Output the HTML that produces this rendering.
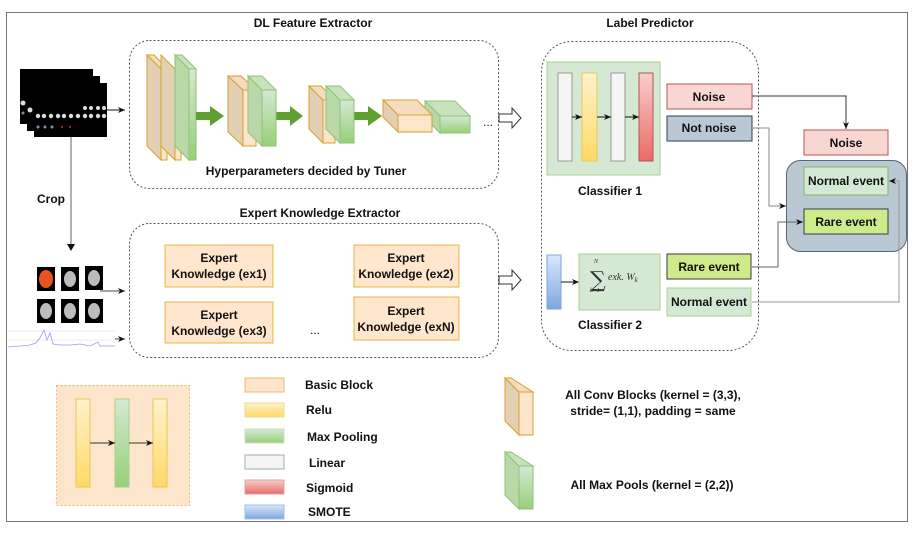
<!DOCTYPE html>
<html><head><meta charset="utf-8"><style>
html,body{margin:0;padding:0;background:#fff}
svg{display:block}
text{font-family:"Liberation Sans",Arial,sans-serif;font-weight:bold;fill:#111}
text.n{font-weight:normal}
</style></head><body>
<svg width="914" height="535" viewBox="0 0 914 535" xmlns="http://www.w3.org/2000/svg">
<defs>
<linearGradient id="gG" x1="0" y1="0" x2="0" y2="1"><stop offset="0" stop-color="#d5e8d4"/><stop offset="1" stop-color="#97d077"/></linearGradient>
<linearGradient id="gY" x1="0" y1="0" x2="0" y2="1"><stop offset="0" stop-color="#fff2cc"/><stop offset="1" stop-color="#ffd966"/></linearGradient>
<linearGradient id="gR" x1="0" y1="0" x2="0" y2="1"><stop offset="0" stop-color="#f8cecc"/><stop offset="1" stop-color="#ea6b66"/></linearGradient>
<linearGradient id="gB" x1="0" y1="0" x2="0" y2="1"><stop offset="0" stop-color="#dae8fc"/><stop offset="1" stop-color="#7ea6e0"/></linearGradient>
<marker id="ar" markerWidth="8" markerHeight="8" refX="7" refY="4" orient="auto" markerUnits="userSpaceOnUse"><path d="M0,1 L7,4 L0,7 L2,4 z" fill="#111"/></marker>
</defs>
<rect x="6.5" y="12.5" width="901" height="509" fill="#fff" stroke="#777" stroke-width="1"/>

<!-- DL Feature Extractor -->
<text x="313" y="27" font-size="12" text-anchor="middle">DL Feature Extractor</text>
<rect x="129.5" y="40.5" width="369" height="148" rx="20" fill="none" stroke="#555" stroke-dasharray="2,2"/>

<!-- image stacks -->
<rect x="20" y="69" width="73" height="55" fill="#000"/>
<rect x="27" y="76" width="73" height="55" fill="#000"/>
<rect x="34" y="83" width="73" height="54" fill="#000"/>
<g fill="#ddd">
<circle cx="23" cy="103" r="2.5"/><circle cx="30" cy="110" r="2.5"/>
<circle cx="38" cy="116" r="2.2"/><circle cx="44" cy="116" r="2.2"/><circle cx="51" cy="116" r="2.2"/><circle cx="58" cy="116" r="2.2"/><circle cx="64" cy="116" r="2.2"/><circle cx="71" cy="116" r="2.2"/><circle cx="78" cy="116" r="2.2"/><circle cx="85" cy="116" r="2.2"/><circle cx="91" cy="116" r="2.2"/><circle cx="98" cy="116" r="2.2"/><circle cx="104" cy="116" r="2.2"/>
<circle cx="85" cy="108" r="2"/><circle cx="91" cy="108" r="2"/><circle cx="98" cy="108" r="2"/><circle cx="104" cy="108" r="2"/>
</g>
<g fill="#88a"><circle cx="38" cy="127" r="1.5"/><circle cx="45" cy="127" r="1.5"/><circle cx="52" cy="127" r="1.5"/><circle cx="23" cy="113" r="1.5"/></g>
<g fill="#c33"><circle cx="62" cy="127" r="1"/><circle cx="70" cy="127" r="1"/></g>
<line x1="107" y1="110" x2="125" y2="110" stroke="#111" marker-end="url(#ar)"/>

<!-- conv blocks -->
<g stroke="#d6a22c" stroke-width="1">
<polygon points="147,55 161,69 161,160 147,146" fill="#e3cfb3"/>
<polygon points="147,55 154,55 168,69 161,69" fill="#f3dcc0"/>
<rect x="161" y="69" width="6" height="91" fill="#fde5cc"/>
<polygon points="161,55 175,69 175,160 161,146" fill="#e3cfb3"/>
<rect x="175" y="69" width="6" height="91" fill="#fde5cc"/>
</g>
<g stroke="#8fc27a">
<polygon points="175,55 189,69 189,160 175,146" fill="#b8d8a8"/>
<polygon points="175,55 182,55 196,69 189,69" fill="#c8e2bb"/>
<rect x="189" y="69" width="7" height="91" fill="url(#gG)"/>
</g>
<g fill="#60a030"><polygon points="196,112 210,112 210,106 224,116 210,126 210,120 196,120"/>
<polygon points="276,112 290,112 290,106 303,116 290,126 290,120 276,120"/>
<polygon points="354,112 368,112 368,106 382,116 368,126 368,120 354,120"/></g>

<g stroke="#d6a22c">
<polygon points="228,76 243,90 243,146 228,132" fill="#e3cfb3"/>
<polygon points="228,76 241,76 256,90 243,90" fill="#f3dcc0"/>
<rect x="243" y="90" width="13" height="56" fill="#fde5cc"/>
</g>
<g stroke="#8fc27a">
<polygon points="248,76 262,90 262,146 248,132" fill="#b8d8a8"/>
<polygon points="248,76 262,76 276,90 262,90" fill="#c8e2bb"/>
<rect x="262" y="90" width="14" height="56" fill="url(#gG)"/>
</g>
<g stroke="#d6a22c">
<polygon points="309,86 323,100 323,143 309,129" fill="#e3cfb3"/>
<polygon points="309,86 321,86 335,100 323,100" fill="#f3dcc0"/>
<rect x="323" y="100" width="12" height="43" fill="#fde5cc"/>
</g>
<g stroke="#8fc27a">
<polygon points="326,86 340,100 340,143 326,129" fill="#b8d8a8"/>
<polygon points="326,86 340,86 354,100 340,100" fill="#c8e2bb"/>
<rect x="340" y="100" width="14" height="43" fill="url(#gG)"/>
</g>
<g stroke="#8fc27a">
<polygon points="425,101 455,101 470,116 440,116" fill="#c8e2bb"/>
<polygon points="425,101 440,116 440,133 425,118" fill="#b8d8a8"/>
<rect x="440" y="116" width="30" height="17" fill="url(#gG)"/>
</g>
<g stroke="#d6a22c">
<polygon points="383,100 417,100 432,115 398,115" fill="#f3dcc0"/>
<polygon points="383,100 398,115 398,132 383,117" fill="#e3cfb3"/>
<rect x="398" y="115" width="34" height="17" fill="#fde5cc"/>
</g>
<text class="n" x="483" y="126" font-size="12">...</text>
<polygon points="499,114 512,114 512,108 521,118 512,128 512,122 499,122" fill="#fff" stroke="#333"/>
<text x="306" y="175" font-size="12" text-anchor="middle">Hyperparameters decided by Tuner</text>

<!-- crop -->
<line x1="71" y1="137" x2="71" y2="248" stroke="#999" stroke-width="1.5"/>
<path d="M67,244 L71,251 L75,244 z" fill="#111"/>
<text x="51" y="203" font-size="12" text-anchor="middle">Crop</text>

<!-- Expert Knowledge Extractor -->
<text x="320" y="217" font-size="12" text-anchor="middle">Expert Knowledge Extractor</text>
<rect x="129.5" y="223.5" width="369" height="134" rx="20" fill="none" stroke="#555" stroke-dasharray="2,2"/>
<g fill="#ffe6cc" stroke="#d79b00" stroke-opacity="0.7">
<rect x="165" y="245" width="108" height="42"/>
<rect x="354" y="245" width="105" height="42"/>
<rect x="165" y="302" width="108" height="41"/>
<rect x="354" y="297" width="105" height="43"/>
</g>
<g font-size="12" text-anchor="middle">
<text x="219" y="262">Expert</text><text x="219" y="278">Knowledge (ex1)</text>
<text x="406" y="262">Expert</text><text x="406" y="278">Knowledge (ex2)</text>
<text x="219" y="319">Expert</text><text x="219" y="335">Knowledge (ex3)</text>
<text x="406" y="315">Expert</text><text x="406" y="331">Knowledge (exN)</text>
</g>
<text class="n" x="310" y="334" font-size="12">...</text>
<polygon points="499,276 512,276 512,270 521,280 512,290 512,284 499,284" fill="#fff" stroke="#333"/>

<!-- thumbnails -->
<g fill="#000">
<rect x="37" y="267" width="18" height="24"/><rect x="61" y="267" width="18" height="24"/><rect x="85" y="266" width="18" height="24"/>
<rect x="37" y="299" width="18" height="24"/><rect x="61" y="299" width="18" height="24"/><rect x="85" y="299" width="18" height="24"/>
</g>
<ellipse cx="46" cy="279" rx="7" ry="9" fill="#e8541f"/>
<g fill="#bbb">
<ellipse cx="70" cy="279" rx="6" ry="8"/><ellipse cx="94" cy="278" rx="6" ry="8"/>
<ellipse cx="46" cy="311" rx="6" ry="8"/><ellipse cx="70" cy="311" rx="6" ry="8"/><ellipse cx="94" cy="311" rx="6" ry="8"/>
</g>
<line x1="100" y1="291" x2="125" y2="291" stroke="#444" marker-end="url(#ar)"/>
<g stroke="#ddd" stroke-width="0.6"><line x1="8" y1="331" x2="115" y2="331"/><line x1="8" y1="340" x2="115" y2="340"/></g>
<polyline points="8,347 20,346 30,345 36,343 40,338 44,330 47,340 50,333 53,344 60,345 70,345 80,344 90,346 98,342 100,346 115,346" fill="none" stroke="#99f" stroke-width="0.8"/>
<line x1="115" y1="339" x2="125" y2="339" stroke="#444" marker-end="url(#ar)"/>

<!-- Label predictor -->
<text x="650" y="27" font-size="12" text-anchor="middle">Label Predictor</text>
<rect x="541.5" y="41.5" width="217" height="309" rx="30" fill="none" stroke="#555" stroke-dasharray="2,2"/>
<rect x="547" y="62" width="113" height="113" fill="#d5e8d4" stroke="#a8d08d"/>
<rect x="558" y="73" width="14" height="88" fill="#f5f5f5" stroke="#999"/>
<rect x="582" y="73" width="15" height="88" fill="url(#gY)" stroke="#e6c85a"/>
<rect x="611" y="73" width="14" height="88" fill="#f5f5f5" stroke="#999"/>
<rect x="639" y="73" width="14" height="88" fill="url(#gR)" stroke="#b85450"/>
<g stroke="#111" marker-end="url(#ar)"><line x1="572" y1="117" x2="582" y2="117"/><line x1="597" y1="117" x2="611" y2="117"/><line x1="625" y1="117" x2="639" y2="117"/></g>
<text x="610" y="195" font-size="12" text-anchor="middle">Classifier 1</text>

<rect x="667" y="84" width="85" height="25" fill="#f8d7d3" stroke="#b85450"/>
<text x="709" y="101" font-size="12" text-anchor="middle">Noise</text>
<rect x="667" y="116" width="85" height="25" fill="#bac8d3" stroke="#23445d"/>
<text x="709" y="132" font-size="12" text-anchor="middle">Not noise</text>

<rect x="547" y="255" width="14" height="54" fill="url(#gB)" stroke="#7ea6e0"/>
<line x1="561" y1="282" x2="579" y2="282" stroke="#111" marker-end="url(#ar)"/>
<rect x="579" y="254" width="81" height="56" fill="#d5e8d4" stroke="#a8d08d"/>
<text x="590" y="287" style="font-family:'DejaVu Serif','Liberation Serif',serif;font-weight:normal;font-size:22px;fill:#333">∑</text>
<text x="594" y="263" style="font-family:'Liberation Serif',serif;font-style:italic;font-weight:normal;font-size:6px;fill:#333">N</text>
<text x="590" y="292" style="font-family:'Liberation Serif',serif;font-style:italic;font-weight:normal;font-size:6px;fill:#333">k=1</text>
<text x="608" y="280" style="font-family:'Liberation Serif',serif;font-style:italic;font-weight:normal;font-size:10px;fill:#333">exk. W<tspan style="font-size:7px" dy="2">k</tspan></text>
<text x="610" y="329" font-size="12" text-anchor="middle">Classifier 2</text>

<rect x="667" y="254" width="84" height="25" fill="#cdeb8b" stroke="#36393d"/>
<text x="709" y="271" font-size="12" text-anchor="middle">Rare event</text>
<rect x="667" y="288" width="84" height="28" fill="#d5e8d4" stroke="#a8d08d"/>
<text x="709" y="306" font-size="12" text-anchor="middle">Normal event</text>

<rect x="804" y="130" width="84" height="25" fill="#f8d7d3" stroke="#b85450"/>
<text x="846" y="147" font-size="12" text-anchor="middle">Noise</text>
<rect x="786.5" y="160.5" width="120" height="91" rx="14" fill="#bac8d3" stroke="#53667a"/>
<rect x="804" y="167" width="84" height="28" fill="#d5e8d4" stroke="#82b366"/>
<text x="846" y="185" font-size="12" text-anchor="middle">Normal event</text>
<rect x="804" y="209" width="84" height="25" fill="#cdeb8b" stroke="#36393d"/>
<text x="846" y="226" font-size="12" text-anchor="middle">Rare event</text>

<g fill="none" stroke="#666" stroke-width="1">
<polyline points="752,96 846,96 846,129" stroke="#333" marker-end="url(#ar)"/>
<polyline points="752,128 769,128 769,206 786,206" stroke="#888" marker-end="url(#ar)"/>
<polyline points="752,267 778,267 778,222 803,222" marker-end="url(#ar)"/>
<polyline points="752,302 899,302 899,181 889,181" stroke="#999" marker-end="url(#ar)"/>
</g>

<!-- legend block -->
<rect x="56.5" y="385.5" width="133" height="120" fill="#fde5cc" stroke="#f0b870" stroke-dasharray="2,2"/>
<rect x="76" y="399" width="14" height="88" fill="url(#gY)" stroke="#e6c85a"/>
<rect x="115" y="399" width="14" height="88" fill="url(#gG)" stroke="#a8d08d"/>
<rect x="153" y="399" width="14" height="88" fill="url(#gY)" stroke="#e6c85a"/>
<g stroke="#333" marker-end="url(#ar)"><line x1="90" y1="443" x2="115" y2="443"/><line x1="129" y1="443" x2="153" y2="443"/></g>

<rect x="245" y="378" width="39" height="14" fill="#fde5cc" stroke="#f0b870"/>
<rect x="245" y="403" width="39" height="14" fill="url(#gY)" stroke="#f0d890"/>
<rect x="245" y="429" width="39" height="14" fill="url(#gG)" stroke="#c8e0c0"/>
<rect x="245" y="455" width="39" height="14" fill="#f5f5f5" stroke="#aaa"/>
<rect x="245" y="480" width="39" height="14" fill="url(#gR)" stroke="#e0a0a0"/>
<rect x="245" y="505" width="39" height="14" fill="url(#gB)" stroke="#a0c0e8"/>
<g font-size="12">
<text x="305" y="389">Basic Block</text>
<text x="306" y="414">Relu</text>
<text x="307" y="441">Max Pooling</text>
<text x="309" y="467">Linear</text>
<text x="306" y="492">Sigmoid</text>
<text x="308" y="516">SMOTE</text>
</g>

<g stroke="#d6a22c">
<polygon points="505,378 519,392 519,435 505,421" fill="#e3cfb3"/>
<polygon points="505,378 511,378 533,392 519,392" fill="#f3dcc0"/>
<rect x="519" y="392" width="14" height="43" fill="#fde5cc"/>
</g>
<g stroke="#8fc27a">
<polygon points="505,452 519,466 519,509 505,495" fill="#b8d8a8"/>
<polygon points="505,452 511,452 533,466 519,466" fill="#c8e2bb"/>
<rect x="519" y="466" width="14" height="43" fill="url(#gG)"/>
</g>
<g font-size="12" text-anchor="middle">
<text x="653" y="399">All Conv Blocks (kernel = (3,3),</text>
<text x="653" y="415">stride= (1,1), padding = same</text>
<text x="652" y="489">All Max Pools (kernel = (2,2))</text>
</g>
</svg>
</body></html>
